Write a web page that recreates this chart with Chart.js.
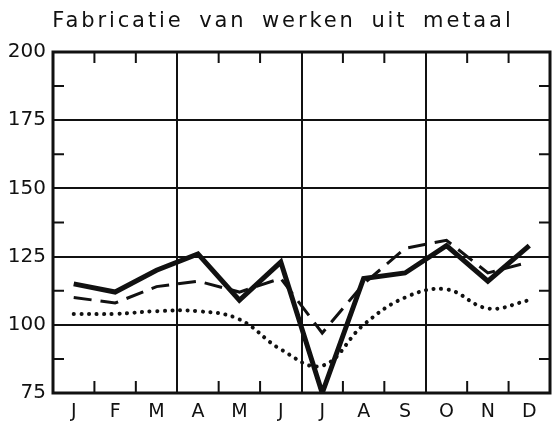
<!DOCTYPE html>
<html>
<head>
<meta charset="utf-8">
<script src="https://cdn.jsdelivr.net/npm/chart.js@4"></script>
<style>
  body { margin: 0; background: #fff; }
  #wrap { position: relative; width: 553px; height: 421px; }
  #title {
    position: absolute; left: 0; top: 8px; width: 566px; text-align: center;
    font-family: "DejaVu Sans", sans-serif; font-size: 21px; letter-spacing: 2.9px; word-spacing: 6px;
    color: #111;
  }
  canvas { position: absolute; left: 0; top: 0; }
</style>
</head>
<body>
<div id="wrap">
  <canvas id="lineChart" width="553" height="421"></canvas>
  <div id="title">Fabricatie van werken uit metaal</div>
</div>
<script>
// months and the three series
var months = ['J', 'F', 'M', 'A', 'M', 'J', 'J', 'A', 'S', 'O', 'N', 'D'];
var solidSeries  = [115, 112, 120, 126, 109, 123, 75, 117, 119, 129, 116, 129];
var dashedSeries = [110, 108, 114, 116, 112, 117, 97, 115, 128, 131, 119, 123];
var dottedSeries = [104, 104, 105, 105, 102, 91, 85, 100, 110, 113, 106, 109];
var yTicks = [75, 100, 125, 150, 175, 200];
var yMinor = [87.5, 112.5, 137.5, 162.5, 187.5];

var ink = '#111';

// frame + little inward ticks, like the printed graph paper
var framePlugin = {
    id: 'frame',
    afterDatasetsDraw: function (chart) {
        var ctx = chart.ctx, a = chart.chartArea;
        var x = chart.scales.x, y = chart.scales.y;
        ctx.save();
        ctx.strokeStyle = ink;
        ctx.lineWidth = 2;
        // minor ticks on left and right edges
        yMinor.forEach(function (v) {
            var py = y.getPixelForValue(v);
            ctx.beginPath();
            ctx.moveTo(a.left, py); ctx.lineTo(a.left + 11, py);
            ctx.moveTo(a.right, py); ctx.lineTo(a.right - 11, py);
            ctx.stroke();
        });
        // month boundaries on top and bottom
        for (var i = 1; i < months.length; i++) {
            if (i % 3 === 0) continue;
            var px = (x.getPixelForValue(i - 1) + x.getPixelForValue(i)) / 2;
            ctx.beginPath();
            ctx.moveTo(px, a.top); ctx.lineTo(px, a.top + 11);
            ctx.moveTo(px, a.bottom); ctx.lineTo(px, a.bottom - 12);
            ctx.stroke();
        }
        ctx.lineWidth = 3;
        ctx.strokeRect(a.left, a.top, a.right - a.left, a.bottom - a.top);
        ctx.restore();
    }
};

var ctx = document.getElementById('lineChart').getContext('2d');
var myChart = new Chart(ctx, {
    type: 'line',
    data: {
        labels: months,
        datasets: [{
            data: solidSeries,
            borderColor: ink,
            borderWidth: 5,
            pointRadius: 0,
            tension: 0
        }, {
            data: dashedSeries,
            borderColor: ink,
            borderWidth: 3,
            borderDash: [18, 9],
            pointRadius: 0,
            tension: 0
        }, {
            data: dottedSeries,
            borderColor: ink,
            borderWidth: 4,
            borderDash: [0.1, 7.5],
            borderCapStyle: 'round',
            pointRadius: 0,
            tension: 0.4
        }]
    },
    options: {
        responsive: false,
        animation: false,
        layout: { padding: { top: 52, right: 3, left: 0, bottom: 0 } },
        plugins: { legend: { display: false }, tooltip: { enabled: false } },
        scales: {
            x: {
                offset: true,
                grid: {
                    offset: true,
                    drawTicks: false,
                    lineWidth: 2,
                    color: function (c) { return (c.index === 3 || c.index === 6 || c.index === 9) ? ink : 'rgba(0,0,0,0)'; }
                },
                border: { display: false },
                ticks: {
                    color: ink, padding: 8,
                    font: { family: 'DejaVu Sans', size: 19, weight: '500' }
                },
                afterFit: function (s) { s.height = 28; }
            },
            y: {
                min: 75, max: 200,
                afterBuildTicks: function (s) { s.ticks = yTicks.map(function (v) { return { value: v }; }); },
                grid: {
                    drawTicks: false,
                    lineWidth: 2,
                    color: function (c) { return (c.tick && (c.tick.value === 75 || c.tick.value === 200)) ? 'rgba(0,0,0,0)' : ink; }
                },
                border: { display: false },
                ticks: {
                    color: ink, padding: 7,
                    font: { family: 'DejaVu Sans', size: 20, weight: '500' }
                },
                afterFit: function (s) { s.width = 53; }
            }
        }
    },
    plugins: [framePlugin]
});
</script>
</body>
</html>
